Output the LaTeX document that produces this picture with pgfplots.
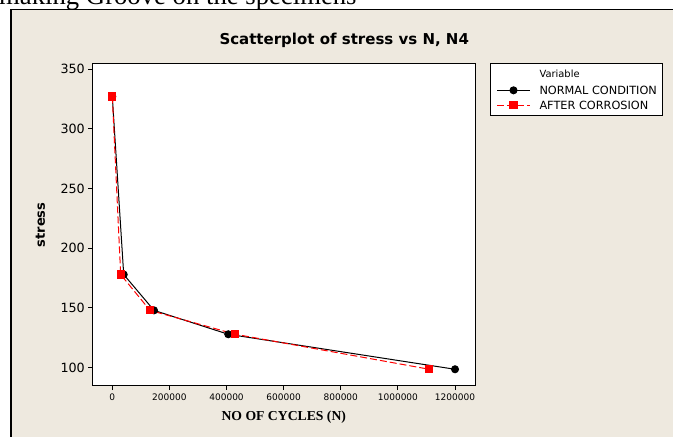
\documentclass[border=0pt]{standalone}
\usepackage{fontspec}
\setmainfont{DejaVu Sans}
\newfontfamily\timesfont{Liberation Serif}
\usepackage{pgfplots}
\pgfplotsset{compat=1.18}
\definecolor{bg}{RGB}{238,233,223}
\begin{document}
\begin{tikzpicture}[x=1pt,y=1pt]
\useasboundingbox (0pt,0pt) rectangle (673pt,437pt);
\clip (0pt,0pt) rectangle (673pt,437pt);
\fill[white] (0pt,0pt) rectangle (673pt,437pt);
\node[anchor=base west, inner sep=0, font=\timesfont\fontsize{26.7}{30}\selectfont] at (-1pt,432pt) {making Groove on the specimens};
\fill[bg] (11pt,-5pt) rectangle (690pt,427.5pt);
\draw[line width=1.5pt] (11pt,-5pt) -- (11pt,427.5pt) -- (690pt,427.5pt);
\node[anchor=base west, inner sep=0, font=\bfseries\fontsize{15}{18}\selectfont] at (219.3pt,392pt) {Scatterplot of stress vs N, N4};
\begin{axis}[
  at={(92.3pt,51pt)}, anchor=south west, scale only axis,
  width=383pt, height=322pt,
  xmin=-70000, xmax=1271000, ymin=84.7, ymax=354.2,
  axis background/.style={fill=white},
  axis line style={line width=1pt},
  xtick={0,200000,400000,600000,800000,1000000,1200000},
  ytick={100,150,200,250,300,350},
  scaled x ticks=false,
  xtick pos=left, ytick pos=left,
  tick align=outside, major tick length=4pt,
  tick style={black, line width=1pt},
  /pgf/number format/assume math mode=true,
  xticklabel style={font=\fontsize{9}{10}\selectfont, /pgf/number format/fixed, /pgf/number format/1000 sep={}},
  yticklabel style={font=\fontsize{12.7}{14}\selectfont},
  xlabel={NO OF CYCLES (N)},
  xlabel style={font=\timesfont\bfseries\fontsize{13.7}{16}\selectfont, at={(axis description cs:0.5,-0.1056)}, anchor=base, inner sep=0},
  ylabel={stress},
  ylabel style={font=\bfseries\fontsize{13}{15}\selectfont, at={(axis description cs:-0.1352,0.5)}, anchor=center, inner sep=0},
  legend cell align=left,
  legend image code/.code={\draw[mark repeat=2,mark phase=2,#1] plot coordinates {(0pt,0pt) (16.5pt,0pt) (33pt,0pt)};},
  legend style={at={(1.0384,1.003)}, anchor=north west, draw=black, line width=1pt, fill=white,
    font=\fontsize{11.3}{13}\selectfont, inner xsep=6pt, inner ysep=6pt, row sep=6.8pt, column sep=9pt,
    nodes={inner sep=0pt, text height=8.2pt, text depth=0pt}},
]
\addlegendimage{empty legend}
\addlegendentry[text depth=1.7pt]{\fontsize{9.9}{11}\selectfont Variable}
\addplot[black, line width=1pt, mark=*, mark size=3.5pt, mark options={solid}]
  coordinates {(0,327) (40000,178) (146000,148) (406000,128) (1200000,98.7)};
\addlegendentry{NORMAL CONDITION}
\addplot[red, line width=1pt, dash pattern=on 7pt off 3pt, mark=square*, mark size=3.6pt, mark options={solid}]
  coordinates {(0,327) (29400,178) (132000,148) (430700,128) (1110000,98.7)};
\addlegendentry{AFTER CORROSION\hspace*{4pt}}
\end{axis}
\end{tikzpicture}
\end{document}
